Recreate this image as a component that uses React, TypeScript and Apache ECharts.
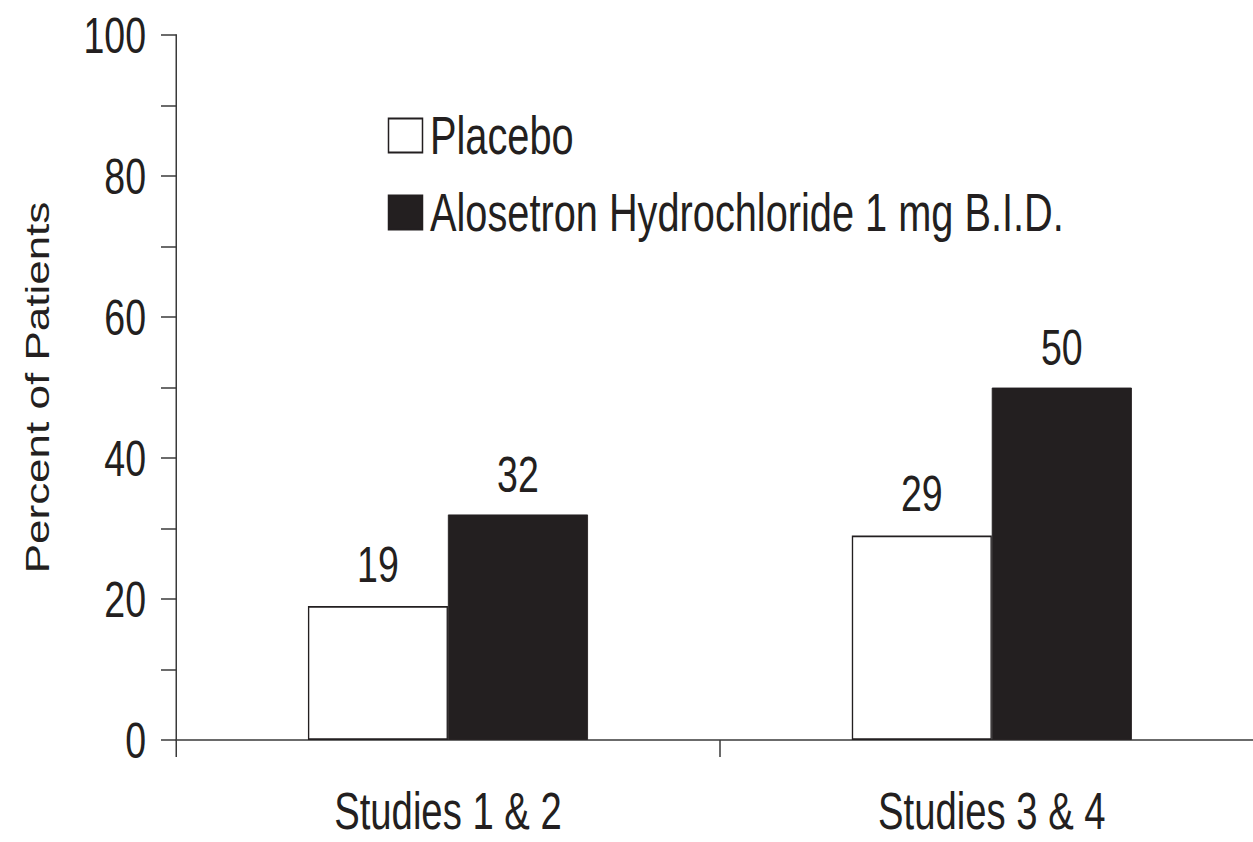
import React, { useEffect, useRef } from "react";
import * as echarts from "echarts";

const categories = ["Studies 1 & 2", "Studies 3 & 4"];
const seriesNames = ["Placebo", "Alosetron Hydrochloride 1 mg B.I.D."];
const placeboValues = [19, 29];
const alosetronValues = [32, 50];
const yAxisTitle = "Percent of Patients";

// The reference uses a condensed typeface; the chart is drawn wider and then
// condensed horizontally with a CSS transform so that every text stays real text.
const SX = 0.75;
const VIEW_W = 1253;
const VIEW_H = 842;
const PLOT_RIGHT = 1264; // right end of the category axis (beyond the visible edge)

const FONT = "'Liberation Sans', Arial, Helvetica, sans-serif";
const INK = "#231f20";
const AXIS = "#3a3a3a";

const u = (px: number) => px / SX; // scaled-space horizontal px -> chart px

export default function App() {
  const ref = useRef<HTMLDivElement>(null);

  useEffect(() => {
    document.body.style.margin = "0";
    if (!ref.current) return;
    const chart = echarts.init(ref.current, undefined, { renderer: "svg" });
    chart.setOption({
      animation: false,
      backgroundColor: "#ffffff",
      grid: { left: u(176), right: 0, top: 35, bottom: 102, containLabel: false },
      legend: {
        orient: "vertical",
        left: u(384),
        top: 104,
        itemWidth: u(34),
        itemHeight: 34,
        itemGap: 24,
        icon: "rect",
        data: seriesNames,
        textStyle: { fontSize: 53, fontFamily: FONT, color: INK, padding: [0, 0, 0, 5] },
      },
      xAxis: {
        type: "category",
        data: categories,
        boundaryGap: true,
        axisLine: { show: true, lineStyle: { color: AXIS, width: 1.5 } },
        axisTick: { show: true, length: 17, lineStyle: { color: AXIS, width: 2 } },
        axisLabel: { fontSize: 51, lineHeight: 40, fontFamily: FONT, color: INK, margin: 51 },
        splitLine: { show: false },
      },
      yAxis: {
        type: "value",
        min: 0,
        max: 100,
        interval: 20,
        name: yAxisTitle,
        nameLocation: "middle",
        nameRotate: 90,
        nameGap: 162,
        nameTextStyle: { fontSize: 44, fontFamily: FONT, color: INK },
        axisLine: { show: true, lineStyle: { color: AXIS, width: 2 } },
        axisTick: { show: true, length: u(15), lineStyle: { color: AXIS, width: 1.5 } },
        minorTick: { show: true, splitNumber: 2, length: u(15), lineStyle: { color: AXIS, width: 1.5 } },
        axisLabel: { fontSize: 50, fontFamily: FONT, color: INK, margin: u(30) },
        splitLine: { show: false },
      },
      series: [
        {
          name: seriesNames[0],
          type: "bar",
          data: placeboValues,
          barWidth: u(140),
          barGap: "0%",
          itemStyle: { color: "#ffffff", borderColor: INK, borderWidth: 1.8 },
          label: { show: true, position: "top", distance: 17, fontSize: 50, fontFamily: FONT, color: INK },
        },
        {
          name: seriesNames[1],
          type: "bar",
          data: alosetronValues,
          barWidth: u(140),
          barGap: "0%",
          itemStyle: { color: INK, borderColor: INK, borderWidth: 1 },
          label: { show: true, position: "top", distance: 15, fontSize: 50, fontFamily: FONT, color: INK },
        },
      ],
    });
    return () => chart.dispose();
  }, []);

  return (
    <div style={{ width: VIEW_W, height: VIEW_H, overflow: "hidden", position: "relative", background: "#fff" }}>
      <div
        ref={ref}
        style={{
          width: u(PLOT_RIGHT),
          height: VIEW_H,
          transform: `scaleX(${SX})`,
          transformOrigin: "0 0",
        }}
      />
    </div>
  );
}
